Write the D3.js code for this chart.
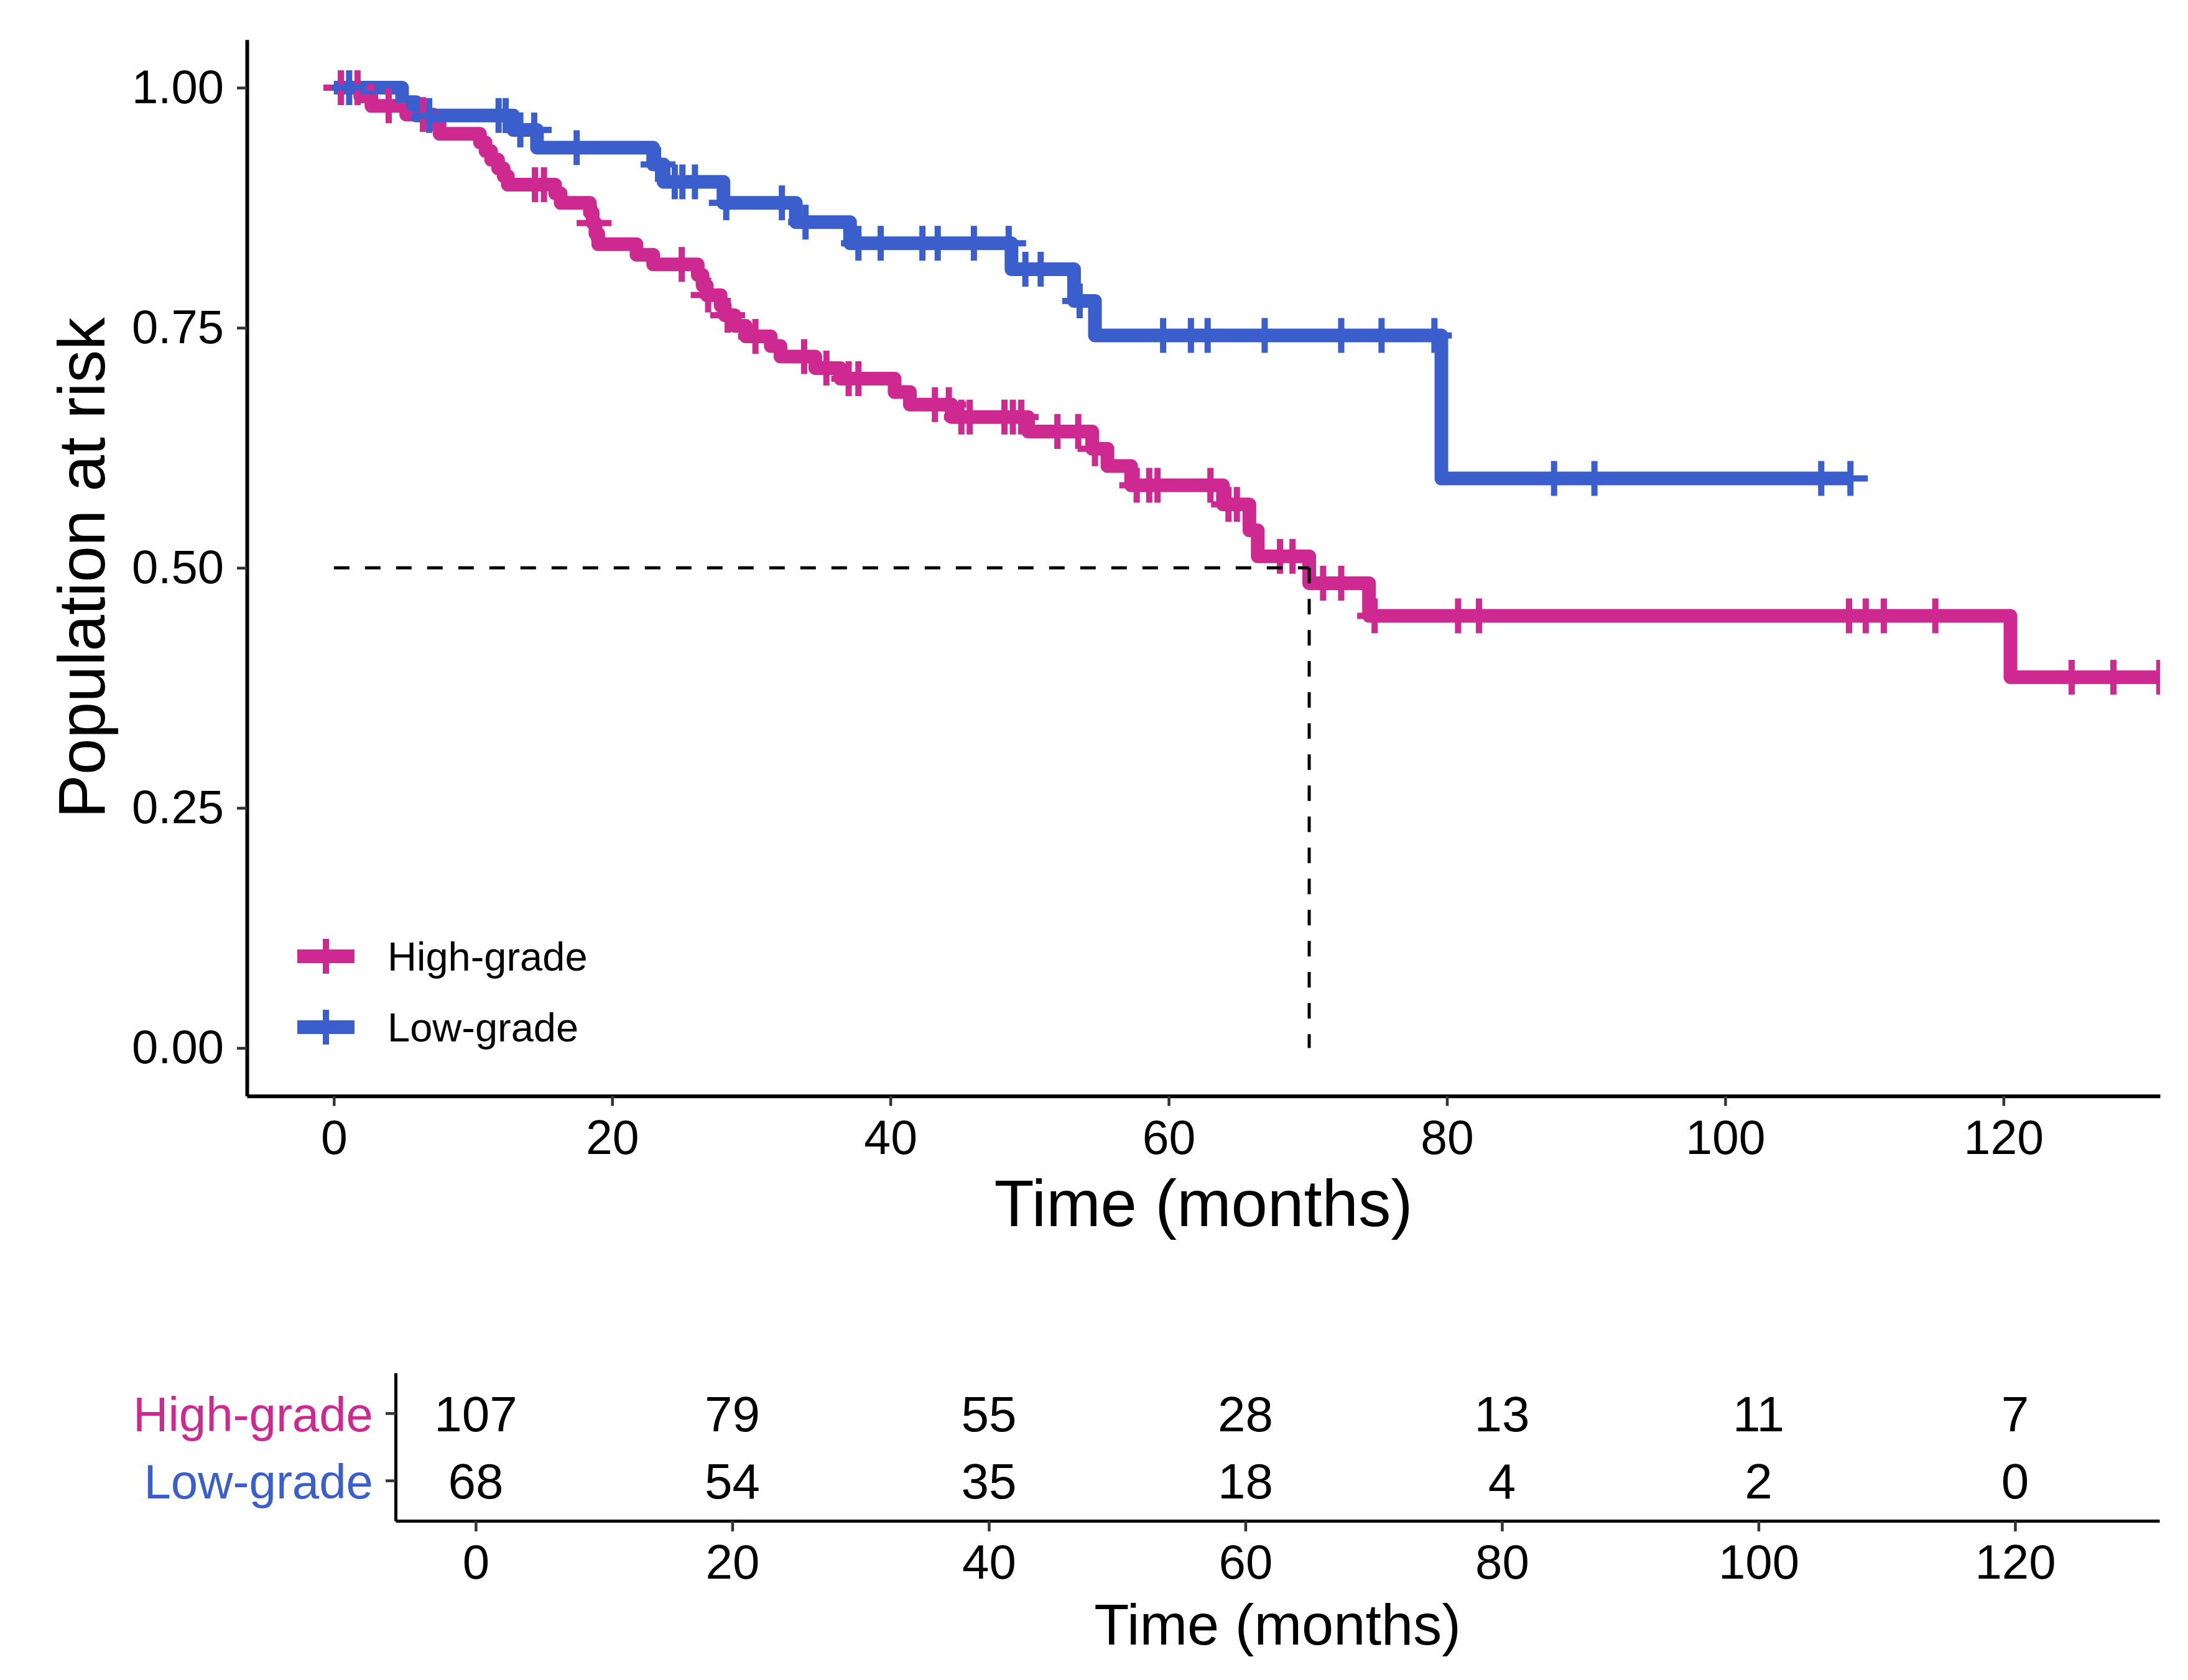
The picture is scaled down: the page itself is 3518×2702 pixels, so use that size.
<!DOCTYPE html>
<html><head><meta charset="utf-8">
<script src="https://cdn.jsdelivr.net/npm/d3@7"></script>
<style>html,body{margin:0;padding:0;background:#fff;} svg{display:block;}</style>
</head><body>
<script>
// ---------------- DATA ----------------
const groups = ["High-grade", "Low-grade"];
const groupColors = ["#CD2990", "#3A5FCD"];

// High-grade Kaplan-Meier steps (time in months, survival after step)
const highTimes = [0, 1.9, 2.7, 5.2, 7.15, 7.6, 10.5, 10.9, 11.3, 11.8, 12.2, 12.5, 15.9, 16.3, 18.4, 18.6, 18.8, 19.0, 21.75, 22.95, 26.15, 26.5, 26.8, 27.8, 28.1, 28.8, 29.6, 31.4, 32.1, 34.6, 36.4, 40.3, 41.4, 44.4, 49.9, 54.5, 55.6, 57.3, 63.9, 65.8, 66.4, 70.1, 74.4, 120.5, 131.2];
const highSurv  = [1, .991, .981, .972, .962, .952, .943, .934, .925, .916, .908, .899, .890, .880, .870, .859, .848, .837, .826, .816, .805, .794, .784, .773, .763, .752, .741, .731, .720, .708, .697, .683, .670, .657, .642, .624, .606, .586, .566, .539, .512, .484, .450, .386, .386];
const highCensor = [0.5, 1.7, 3.94, 6.4, 14.45, 15.1, 18.7, 25.0, 26.9, 28.3, 30.3, 33.8, 35.4, 37.0, 37.7, 43.2, 44.2, 45.1, 45.7, 48.2, 48.8, 49.4, 52.0, 53.5, 54.7, 57.7, 58.6, 59.2, 63.0, 64.3, 64.9, 68.0, 68.9, 71.1, 72.4, 74.8, 80.8, 82.3, 108.9, 110.1, 111.4, 115.1, 124.9, 127.9, 131.2];

// Low-grade Kaplan-Meier steps
const lowTimes = [0, 4.9, 5.9, 12.9, 14.6, 22.95, 23.7, 28.0, 33.2, 37.1, 48.7, 53.2, 54.7, 79.6, 109.0];
const lowSurv  = [1, .985, .971, .956, .9375, .920, .902, .880, .860, .838, .811, .778, .742, .593, .593];
const lowCensor = [1.1, 6.85, 11.84, 12.35, 13.4, 14.4, 17.45, 23.3, 24.5, 25.05, 25.95, 28.2, 32.2, 33.9, 37.7, 39.3, 42.3, 43.4, 46.0, 48.5, 49.7, 50.8, 53.6, 59.6, 61.6, 62.8, 66.9, 72.4, 75.3, 79.1, 87.7, 90.6, 106.9, 109.0];

// Median survival (High-grade)
const medianTime = 70.1;
const medianSurv = 0.5;

// Axis ticks
const xTicks = [0, 20, 40, 60, 80, 100, 120];
const yTicks = [0, 0.25, 0.5, 0.75, 1.0];

// Number at risk table
const riskTimes = [0, 20, 40, 60, 80, 100, 120];
const highRisk = [107, 79, 55, 28, 13, 11, 7];
const lowRisk  = [68, 54, 35, 18, 4, 2, 0];

// Labels
const yTitle = "Population at risk";
const xTitle = "Time (months)";

// ---------------- DRAW ----------------
const W = 3518, H = 2702;
const FONT = "'Liberation Sans', Arial, Helvetica, sans-serif";
const svg = d3.select("body").append("svg")
  .attr("width", W).attr("height", H).attr("viewBox", `0 0 ${W} ${H}`)
  .style("font-family", FONT);
svg.append("rect").attr("width", W).attr("height", H).attr("fill", "#fff");

const xDomain = [-6.25, 131.25];
const x = d3.scaleLinear().domain(xDomain).range([397, 3473]);
const y = d3.scaleLinear().domain([-0.05, 1.05]).range([1762.7, 63.8]);

svg.append("defs").append("clipPath").attr("id", "panelClip")
  .append("rect").attr("x", x.range()[0]).attr("y", y.range()[1])
  .attr("width", x.range()[1] - x.range()[0]).attr("height", y.range()[0] - y.range()[1]);

const series = [
  {name: groups[0], color: groupColors[0], t: highTimes, s: highSurv, c: highCensor},
  {name: groups[1], color: groupColors[1], t: lowTimes, s: lowSurv, c: lowCensor}
];

function survAt(sr, t) {
  let v = sr.s[0];
  for (let i = 0; i < sr.t.length; i++) { if (sr.t[i] <= t) v = sr.s[i]; }
  return v;
}

const panel = svg.append("g").attr("clip-path", "url(#panelClip)");
const line = d3.line().x(d => x(d[0])).y(d => y(d[1])).curve(d3.curveStepAfter);
const gLines = panel.append("g");
series.forEach(sr => {
  const pts = sr.t.map((t, i) => [t, sr.s[i]]);
  gLines.append("path").attr("d", line(pts))
    .attr("fill", "none").attr("stroke", sr.color)
    .attr("stroke-width", 22).attr("stroke-linejoin", "round").attr("stroke-linecap", "butt");
});

const plusHalf = 28;
function plusPath(cx, cy, h) {
  return `M${cx - h},${cy}H${cx + h}M${cx},${cy - h}V${cy + h}`;
}
const gCens = panel.append("g");
series.forEach(sr => {
  sr.c.forEach(t => {
    gCens.append("path").attr("d", plusPath(x(t), y(survAt(sr, t)), plusHalf))
      .attr("stroke", sr.color).attr("stroke-width", 10).attr("fill", "none");
  });
});

// median lines
panel.append("path")
  .attr("d", `M${x(0)},${y(medianSurv)}H${x(medianTime)}`)
  .attr("stroke", "#000").attr("stroke-width", 5).attr("stroke-dasharray", "25,25").attr("fill", "none");
panel.append("path")
  .attr("d", `M${x(medianTime)},${y(medianSurv)}V${y(0)}`)
  .attr("stroke", "#000").attr("stroke-width", 5).attr("stroke-dasharray", "25,25").attr("fill", "none");

// axes main
function styleAxis(g, fontSize) {
  g.select(".domain").attr("stroke", "#000").attr("stroke-width", 6);
  g.selectAll(".tick line").attr("stroke", "#333").attr("stroke-width", 4.5);
  g.selectAll(".tick text").attr("fill", "#000").style("font-size", fontSize + "px").style("font-family", FONT);
}
const gx = svg.append("g").attr("transform", `translate(0,${y.range()[0]})`)
  .call(d3.axisBottom(x).tickValues(xTicks).tickSize(16).tickSizeOuter(0).tickPadding(23).tickFormat(d3.format("d")));
styleAxis(gx, 77);
const gy = svg.append("g").attr("transform", `translate(${x.range()[0]},0)`)
  .call(d3.axisLeft(y).tickValues(yTicks).tickSize(16).tickSizeOuter(0).tickPadding(21).tickFormat(d3.format(".2f")));
styleAxis(gy, 76);

svg.append("text").attr("x", (x.range()[0] + x.range()[1]) / 2).attr("y", 1972)
  .attr("text-anchor", "middle").style("font-size", "105px").attr("fill", "#000").text(xTitle);
svg.append("text").attr("transform", `translate(168,${(y.range()[0] + y.range()[1]) / 2}) rotate(-90)`)
  .attr("text-anchor", "middle").style("font-size", "105px").attr("fill", "#000").text(yTitle);

// legend
const legY = [1538, 1652];
series.forEach((sr, i) => {
  const g = svg.append("g");
  g.append("line").attr("x1", 478).attr("x2", 570).attr("y1", legY[i]).attr("y2", legY[i])
    .attr("stroke", sr.color).attr("stroke-width", 22);
  g.append("path").attr("d", plusPath(524, legY[i], 28)).attr("stroke", sr.color).attr("stroke-width", 10);
  g.append("text").attr("x", 623).attr("y", legY[i]).attr("dy", "0.36em")
    .style("font-size", "65px").attr("fill", "#000").text(sr.name);
});

// ---------------- RISK TABLE ----------------
const xt = d3.scaleLinear().domain(xDomain).range([636, 3472]);
const yt = d3.scalePoint().domain(groups).range([2208, 2446]).padding(0.6);

const riskRows = [highRisk, lowRisk];
groups.forEach((gname, gi) => {
  svg.append("g").selectAll("text").data(riskTimes).join("text")
    .attr("x", d => xt(d)).attr("y", yt(gname)).attr("dy", "0.36em")
    .attr("text-anchor", "middle").style("font-size", "80px").attr("fill", "#000")
    .text((d, i) => riskRows[gi][i]);
});

const gtx = svg.append("g").attr("transform", `translate(0,2446)`)
  .call(d3.axisBottom(xt).tickValues(xTicks).tickSize(17).tickSizeOuter(0).tickPadding(21).tickFormat(d3.format("d")));
styleAxis(gtx, 78);
gtx.select(".domain").attr("stroke-width", 5);
const gty = svg.append("g").attr("transform", `translate(636,0)`)
  .call(d3.axisLeft(yt).tickSize(16).tickSizeOuter(0).tickPadding(20));
styleAxis(gty, 78);
gty.select(".domain").attr("stroke-width", 5);
gty.selectAll(".tick text").attr("fill", (d, i) => groupColors[groups.indexOf(d)]).attr("dy", "0.36em");

svg.append("text").attr("x", (xt.range()[0] + xt.range()[1]) / 2).attr("y", 2645)
  .attr("text-anchor", "middle").style("font-size", "92px").attr("fill", "#000").text(xTitle);
</script>
</body></html>
